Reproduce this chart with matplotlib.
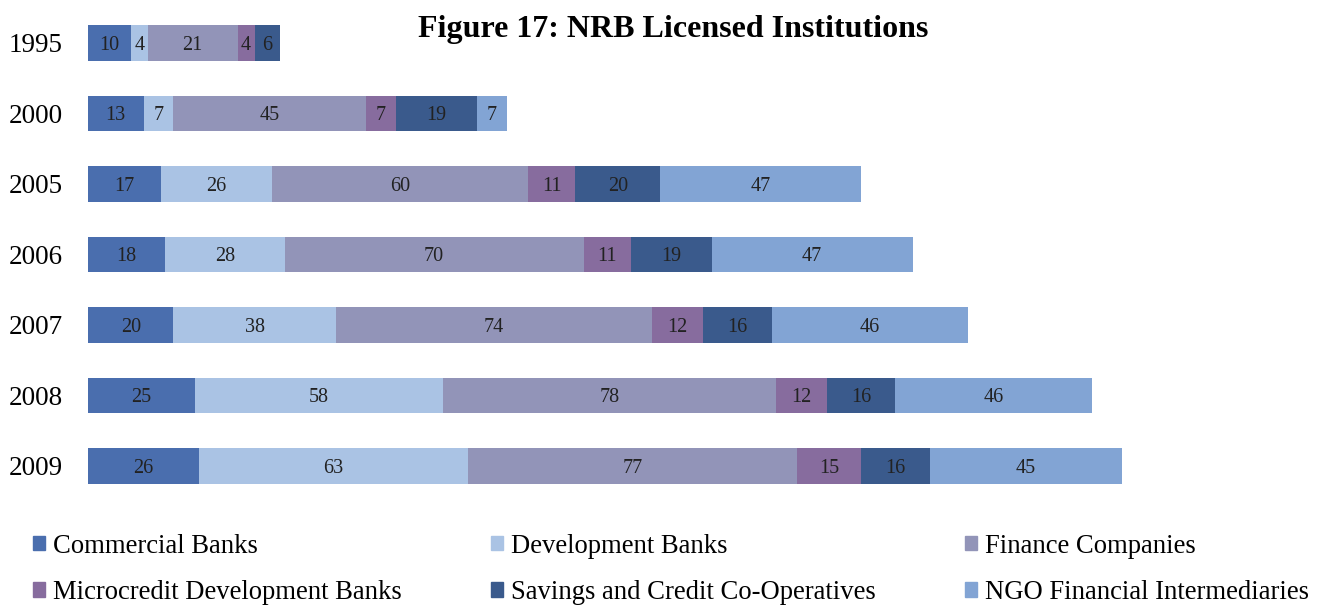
import numpy as np
import matplotlib.pyplot as plt
from matplotlib.patches import Patch

plt.rcParams['font.family'] = ['Liberation Serif', 'DejaVu Serif']

years = ['1995', '2000', '2005', '2006', '2007', '2008', '2009']
series = ['Commercial Banks', 'Development Banks', 'Finance Companies',
          'Microcredit Development Banks', 'Savings and Credit Co-Operatives',
          'NGO Financial Intermediaries']
commercial = [10, 13, 17, 18, 20, 25, 26]
development = [4, 7, 26, 28, 38, 58, 63]
finance = [21, 45, 60, 70, 74, 78, 77]
microcredit = [4, 7, 11, 11, 12, 12, 15]
savings = [6, 19, 20, 19, 16, 16, 16]
ngo = [0, 7, 47, 47, 46, 46, 45]
colors = ['#4a6eae', '#aac3e4', '#9294b8', '#876c9e', '#3a5a8c', '#82a4d4']

data = [commercial, development, finance, microcredit, savings, ngo]

fig = plt.figure(figsize=(13.21, 6.06), dpi=100)
ax = fig.add_axes([0.0666, 0.1729, 0.7827, 0.8144])

y = np.arange(len(years))
left = np.zeros(len(years))
for vals, c in zip(data, colors):
    vals = np.array(vals)
    ax.barh(y, vals, left=left, height=0.5, color=c)
    for yi, l, v in zip(y, left, vals):
        if v > 0:
            ax.text(l + v / 2, yi, str(v), ha='center', va='center_baseline',
                    fontsize=14.5, color='#222222')
    left = left + vals

ax.set_xlim(0, 242)
ax.set_ylim(6.5, -0.5)
ax.set_yticks(y)
ax.set_yticklabels(years, fontsize=19.5)
ax.tick_params(axis='y', length=0, pad=18)
ax.set_xticks([])
for s in ax.spines.values():
    s.set_visible(False)

fig.text(0.5095, 0.952, 'Figure 17: NRB Licensed Institutions', ha='center',
         va='center', fontsize=23, fontweight='bold')

order = [0, 3, 1, 4, 2, 5]
handles = [Patch(color=colors[i]) for i in order]
labels = [series[i] for i in order]
fig.legend(handles, labels, ncol=3, loc='upper left',
           bbox_to_anchor=(0.017, 0.137), frameon=False, fontsize=19.2,
           handlelength=0.45, handleheight=0.45, handletextpad=0.3,
           columnspacing=3.35, labelspacing=0.8, borderaxespad=0)

fig.savefig('out.png', dpi=100)
